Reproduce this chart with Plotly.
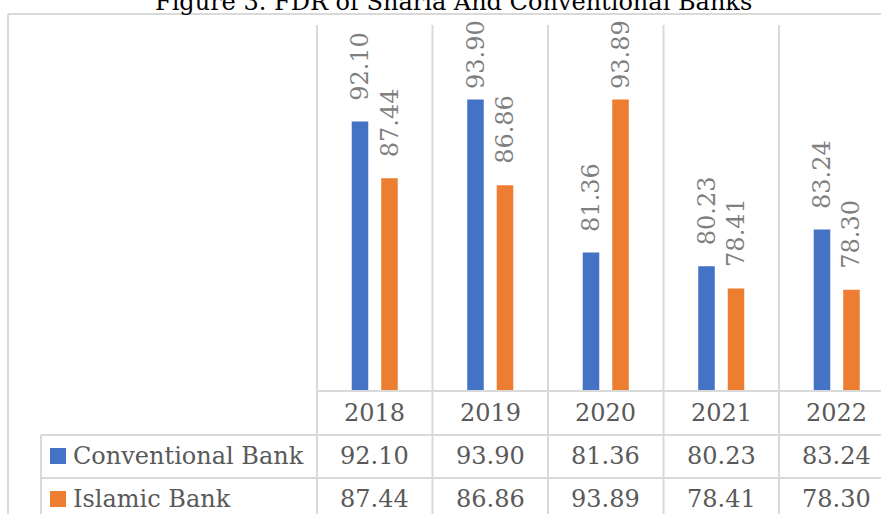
import plotly.graph_objects as go

# ---------------- data ----------------
years = ["2018", "2019", "2020", "2021", "2022"]
conventional = [92.10, 93.90, 81.36, 80.23, 83.24]
islamic = [87.44, 86.86, 93.89, 78.41, 78.30]
series_names = ["Conventional Bank", "Islamic Bank"]
series_values = [conventional, islamic]
series_colors = ["#4472C4", "#ED7D31"]
title_text = "Figure 3. FDR of Sharia And Conventional Banks"

# ---------------- layout geometry ----------------
W, H = 881, 514
L, T, B = 317, 25, 391
R = W
plot_w, plot_h = R - L, B - T
cat_w = 115.5
ymin, ymax = 70, 100
bargap, bargroupgap = 0.489, 0.44
xmax = -0.5 + plot_w / cat_w
ppu = plot_h / (ymax - ymin)

FONT = "DejaVu Serif"
GRID = "#d9d9d9"
TXT = "#595959"
LBL = "#7f7f7f"

def px_x(x):
    return (x - L) / plot_w

def px_y(y):
    return (B - y) / plot_h

x_idx = list(range(len(years)))
fig = go.Figure()
for name, vals, col in zip(series_names, series_values, series_colors):
    fig.add_trace(go.Bar(x=x_idx, y=vals, name=name, marker_color=col,
                         marker_line_width=0, hoverinfo="skip"))

annotations = []
shapes = []

# data labels (rotated, above bars, clamped at top of plot)
slot = (1 - bargap) / 2
label_gap_px = 19
label_len_px = 66
for s, (vals) in enumerate(series_values):
    off = (s - 0.5) * slot
    for i, v in enumerate(vals):
        yb = min(v + label_gap_px / ppu, ymax - label_len_px / ppu)
        annotations.append(dict(x=i + off, y=yb, xref="x", yref="y",
                                text=f"{v:.2f}", textangle=-90, showarrow=False,
                                xanchor="center", yanchor="bottom",
                                font=dict(family=FONT, size=24, color=LBL)))

# grid lines of the chart / data table
line = dict(color=GRID, width=2)
for i in range(len(years)):
    xp = px_x(L + i * cat_w)
    shapes.append(dict(type="line", xref="paper", yref="paper", x0=xp, x1=xp,
                       y0=px_y(T), y1=px_y(H + 5), line=line))
row_top = [B, 435, 478]
row_left = [L, 41, 41]
for yy, xl in zip(row_top, row_left):
    shapes.append(dict(type="line", xref="paper", yref="paper", x0=px_x(xl), x1=px_x(W + 5),
                       y0=px_y(yy), y1=px_y(yy), line=line))
shapes.append(dict(type="line", xref="paper", yref="paper", x0=px_x(41), x1=px_x(41),
                   y0=px_y(435), y1=px_y(H + 5), line=line))
# outer chart border
shapes.append(dict(type="line", xref="paper", yref="paper", x0=px_x(8), x1=px_x(8),
                   y0=px_y(14), y1=px_y(H + 5), line=line))
shapes.append(dict(type="line", xref="paper", yref="paper", x0=px_x(8), x1=px_x(W + 5),
                   y0=px_y(14), y1=px_y(14), line=line))

# table text
row_centers = [413, 456, 499]
for i, yr in enumerate(years):
    annotations.append(dict(x=i, y=px_y(row_centers[0]), xref="x", yref="paper", text=yr,
                            showarrow=False, xanchor="center", yanchor="middle",
                            font=dict(family=FONT, size=24, color=TXT)))
for r, (name, vals, col) in enumerate(zip(series_names, series_values, series_colors)):
    yc = row_centers[r + 1]
    shapes.append(dict(type="rect", xref="paper", yref="paper", x0=px_x(50), x1=px_x(66),
                       y0=px_y(yc - 8), y1=px_y(yc + 8), fillcolor=col, line=dict(width=0)))
    annotations.append(dict(x=px_x(71), y=px_y(yc), xref="paper", yref="paper", text=name,
                            showarrow=False, xanchor="left", yanchor="middle",
                            font=dict(family=FONT, size=24, color=TXT)))
    for i, v in enumerate(vals):
        annotations.append(dict(x=i, y=px_y(yc), xref="x", yref="paper", text=f"{v:.2f}",
                                showarrow=False, xanchor="center", yanchor="middle",
                                font=dict(family=FONT, size=24, color=TXT)))

# title (cut off at the top as in the source)
annotations.append(dict(x=px_x(453), y=px_y(18), xref="paper", yref="paper", text=title_text,
                        showarrow=False, xanchor="center", yanchor="bottom",
                        font=dict(family=FONT, size=24, color="#000000")))

fig.update_layout(
    width=W, height=H, autosize=False,
    margin=dict(l=L, r=W - R, t=T, b=H - B, pad=0),
    barmode="group", bargap=bargap, bargroupgap=bargroupgap,
    showlegend=False,
    plot_bgcolor="white", paper_bgcolor="white",
    xaxis=dict(range=[-0.5, xmax], visible=False, fixedrange=True),
    yaxis=dict(range=[ymin, ymax], visible=False, fixedrange=True),
    shapes=shapes, annotations=annotations,
)

fig.write_html("out.html")
